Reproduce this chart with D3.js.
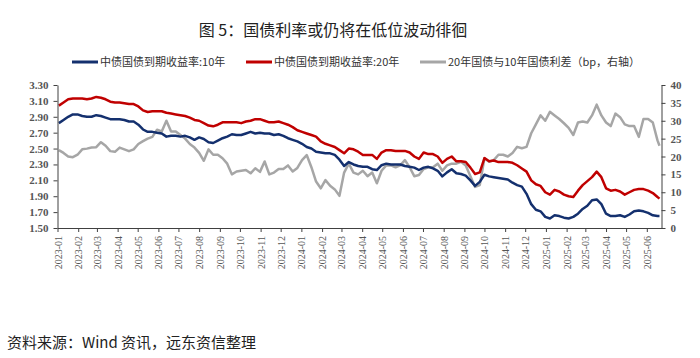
<!DOCTYPE html>
<html><head><meta charset="utf-8">
<script src="https://cdn.jsdelivr.net/npm/d3@7"></script>
<style>body{margin:0;background:#fff} svg{display:block}</style>
</head><body><svg id="c" width="700" height="358"></svg>
<script>
const dates = [
"2023-01-03","2023-01-10","2023-01-17","2023-01-24","2023-01-31","2023-02-07","2023-02-14","2023-02-21","2023-02-28","2023-03-07",
"2023-03-14","2023-03-21","2023-03-28","2023-04-04","2023-04-11","2023-04-18","2023-04-25","2023-05-02","2023-05-09","2023-05-16",
"2023-05-23","2023-05-30","2023-06-06","2023-06-13","2023-06-20","2023-06-27","2023-07-04","2023-07-11","2023-07-18","2023-07-25",
"2023-08-01","2023-08-08","2023-08-15","2023-08-22","2023-08-29","2023-09-05","2023-09-12","2023-09-19","2023-09-26","2023-10-03",
"2023-10-10","2023-10-17","2023-10-24","2023-10-31","2023-11-07","2023-11-14","2023-11-21","2023-11-28","2023-12-05","2023-12-12",
"2023-12-19","2023-12-26","2024-01-02","2024-01-09","2024-01-16","2024-01-23","2024-01-30","2024-02-06","2024-02-13","2024-02-20",
"2024-02-27","2024-03-05","2024-03-12","2024-03-19","2024-03-26","2024-04-02","2024-04-09","2024-04-16","2024-04-23","2024-04-30",
"2024-05-07","2024-05-14","2024-05-21","2024-05-28","2024-06-04","2024-06-11","2024-06-18","2024-06-25","2024-07-02","2024-07-09",
"2024-07-16","2024-07-23","2024-07-30","2024-08-06","2024-08-13","2024-08-20","2024-08-27","2024-09-03","2024-09-10","2024-09-17",
"2024-09-24","2024-10-01","2024-10-08","2024-10-15","2024-10-22","2024-10-29","2024-11-05","2024-11-12","2024-11-19","2024-11-26",
"2024-12-03","2024-12-10","2024-12-17","2024-12-24","2024-12-31","2025-01-07","2025-01-14","2025-01-21","2025-01-28","2025-02-04",
"2025-02-11","2025-02-18","2025-02-25","2025-03-04","2025-03-11","2025-03-18","2025-03-25","2025-04-01","2025-04-08","2025-04-15",
"2025-04-22","2025-04-29","2025-05-06","2025-05-13","2025-05-20","2025-05-27","2025-06-03","2025-06-10","2025-06-17","2025-06-20"];

const yield10 = [
2.82,2.86,2.90,2.93,2.93,2.91,2.90,2.90,2.92,2.91,
2.89,2.87,2.87,2.87,2.86,2.84,2.84,2.80,2.74,2.71,
2.71,2.70,2.69,2.65,2.66,2.66,2.65,2.66,2.64,2.61,
2.64,2.62,2.58,2.57,2.60,2.63,2.65,2.68,2.67,2.67,
2.69,2.71,2.69,2.70,2.69,2.69,2.67,2.68,2.66,2.63,
2.61,2.59,2.56,2.52,2.50,2.46,2.45,2.44,2.44,2.42,
2.36,2.28,2.33,2.30,2.28,2.27,2.27,2.24,2.23,2.29,
2.31,2.30,2.30,2.30,2.28,2.27,2.26,2.23,2.26,2.27,
2.25,2.22,2.15,2.20,2.24,2.19,2.18,2.16,2.10,2.03,
2.08,2.17,2.15,2.14,2.13,2.12,2.11,2.07,2.04,2.02,
1.93,1.80,1.73,1.71,1.64,1.62,1.66,1.65,1.63,1.62,
1.64,1.68,1.74,1.78,1.85,1.86,1.80,1.68,1.65,1.65,
1.66,1.64,1.67,1.71,1.72,1.71,1.69,1.66,1.65,1.65];

const yield20 = [
3.04,3.08,3.12,3.13,3.13,3.13,3.12,3.13,3.15,3.14,
3.12,3.09,3.08,3.08,3.07,3.06,3.06,3.03,2.98,2.96,
2.97,2.97,2.97,2.95,2.94,2.93,2.92,2.91,2.89,2.86,
2.85,2.82,2.79,2.78,2.80,2.83,2.83,2.83,2.83,2.82,
2.84,2.85,2.87,2.87,2.85,2.83,2.83,2.84,2.82,2.80,
2.77,2.73,2.71,2.69,2.67,2.65,2.59,2.56,2.54,2.52,
2.48,2.44,2.50,2.49,2.46,2.42,2.42,2.42,2.37,2.45,
2.48,2.48,2.47,2.47,2.47,2.45,2.40,2.37,2.45,2.43,
2.43,2.40,2.32,2.37,2.40,2.34,2.34,2.33,2.26,2.18,
2.20,2.38,2.34,2.35,2.33,2.33,2.33,2.32,2.29,2.25,
2.21,2.10,2.05,2.03,1.95,1.92,1.98,1.96,1.92,1.90,
1.89,1.97,2.04,2.09,2.14,2.21,2.14,2.00,1.97,1.98,
1.96,1.92,1.95,1.98,1.99,1.99,1.97,1.94,1.89,1.87];

const spreadBp = [
21.8,21.0,20.0,19.8,20.5,22.0,22.2,22.5,22.6,24.0,
23.0,21.5,21.3,22.5,22.0,21.5,22.0,23.5,24.3,25.0,
25.5,27.5,27.0,30.0,27.0,27.0,26.0,25.0,23.5,22.5,
21.0,18.8,22.0,20.5,20.5,19.5,18.0,15.0,15.8,16.0,
16.2,15.3,16.7,15.7,18.6,15.0,15.5,16.5,16.5,17.5,
15.8,16.8,19.0,20.4,17.0,13.0,11.1,13.4,11.8,10.8,
9.0,15.5,18.0,15.5,15.0,16.0,14.5,15.5,12.5,16.0,
17.5,17.5,17.0,17.5,19.0,17.0,14.5,14.8,16.5,17.0,
17.0,18.0,16.0,17.5,18.0,18.0,18.5,17.5,14.5,11.5,
12.0,19.5,18.5,19.0,20.5,20.5,20.0,21.0,22.7,22.3,
22.7,26.5,29.0,31.5,30.0,32.5,31.5,30.5,29.3,28.0,
26.0,29.5,29.8,29.5,31.5,34.5,31.5,29.5,28.5,32.0,
31.0,29.0,28.5,28.5,25.5,30.5,30.5,29.5,24.5,23.0];

const leftTicks = [1.50,1.70,1.90,2.10,2.30,2.50,2.70,2.90,3.10,3.30];
const rightTicks = [0,5,10,15,20,25,30,35,40];
const monthTicks = ["2023-01","2023-02","2023-03","2023-04","2023-05","2023-06","2023-07","2023-08","2023-09","2023-10","2023-11","2023-12",
"2024-01","2024-02","2024-03","2024-04","2024-05","2024-06","2024-07","2024-08","2024-09","2024-10","2024-11","2024-12",
"2025-01","2025-02","2025-03","2025-04","2025-05","2025-06"];

const seriesNames = ["中债国债到期收益率:10年","中债国债到期收益率:20年","20年国债与10年国债利差（bp，右轴）"];
const colors = ["#14306e","#c00000","#a6a6a6"];

const svg = d3.select("#c");
const parseD = d3.timeParse("%Y-%m-%d");
const parseM = d3.timeParse("%Y-%m");
const D = dates.map(parseD);

const x = d3.scaleTime().domain([new Date(2023,0,1), new Date(2025,5,23)]).range([57.5, 661.5]);
const yL = d3.scaleLinear().domain([1.5,3.3]).range([228,85]);
const yR = d3.scaleLinear().domain([0,40]).range([228,85]);

const serif = "'Liberation Serif','Times New Roman',serif";
const cjk = "'Noto Sans CJK SC',sans-serif";

// title
svg.append("text").attr("x",333).attr("y",36).attr("text-anchor","middle")
  .attr("font-family",cjk).attr("font-size",16).attr("fill","#222")
  .text("图 5：国债利率或仍将在低位波动徘徊");

// legend
const legX = [72,246,420];
seriesNames.forEach((n,i)=>{
  svg.append("line").attr("x1",legX[i]).attr("x2",legX[i]+26).attr("y1",62).attr("y2",62)
    .attr("stroke",colors[i]).attr("stroke-width",3);
  svg.append("text").attr("x",legX[i]+28).attr("y",62).attr("dy","0.35em")
    .attr("font-family",cjk).attr("font-size",11).attr("fill","#333").text(n);
});

// lines
const lineL = (vals)=> d3.line().x((d,i)=>x(D[i])).y(d=>yL(d))(vals);
const lineR = (vals)=> d3.line().x((d,i)=>x(D[i])).y(d=>yR(d))(vals);
svg.append("path").attr("d",lineR(spreadBp)).attr("fill","none").attr("stroke",colors[2]).attr("stroke-width",2.5).attr("stroke-linejoin","round");
svg.append("path").attr("d",lineL(yield20)).attr("fill","none").attr("stroke",colors[1]).attr("stroke-width",2.5).attr("stroke-linejoin","round");
svg.append("path").attr("d",lineL(yield10)).attr("fill","none").attr("stroke",colors[0]).attr("stroke-width",2.5).attr("stroke-linejoin","round");

// axes
const axL = svg.append("g").attr("transform","translate(57.5,0)")
  .call(d3.axisLeft(yL).tickValues(leftTicks).tickSize(4).tickSizeOuter(0).tickFormat(d3.format(".2f")));
const axR = svg.append("g").attr("transform","translate(661.5,0)")
  .call(d3.axisRight(yR).tickValues(rightTicks).tickSize(4).tickSizeOuter(0).tickFormat(d3.format("d")));
const axX = svg.append("g").attr("transform","translate(0,228)")
  .call(d3.axisBottom(x).tickValues(monthTicks.map(parseM)).tickSize(4).tickSizeOuter(0).tickFormat(d3.timeFormat("%Y-%m")));

[axL,axR,axX].forEach(g=>{
  g.select(".domain").attr("stroke","#404040");
  g.selectAll(".tick line").attr("stroke","#404040");
  g.selectAll("text").attr("font-family",serif).attr("fill","#555");
});
axL.selectAll("text").attr("font-size",11).attr("font-weight","bold").attr("x",-9);
axR.selectAll("text").attr("font-size",11).attr("font-weight","bold").attr("x",9);
axX.selectAll("text").attr("font-size",10).attr("transform","rotate(-90)")
  .attr("x",-8).attr("y",0).attr("dy","0.35em").attr("text-anchor","end");

// source
svg.append("text").attr("x",7).attr("y",348).attr("font-family",cjk).attr("font-size",15).attr("fill","#222")
  .text("资料来源：Wind 资讯，远东资信整理");
</script></body></html>
